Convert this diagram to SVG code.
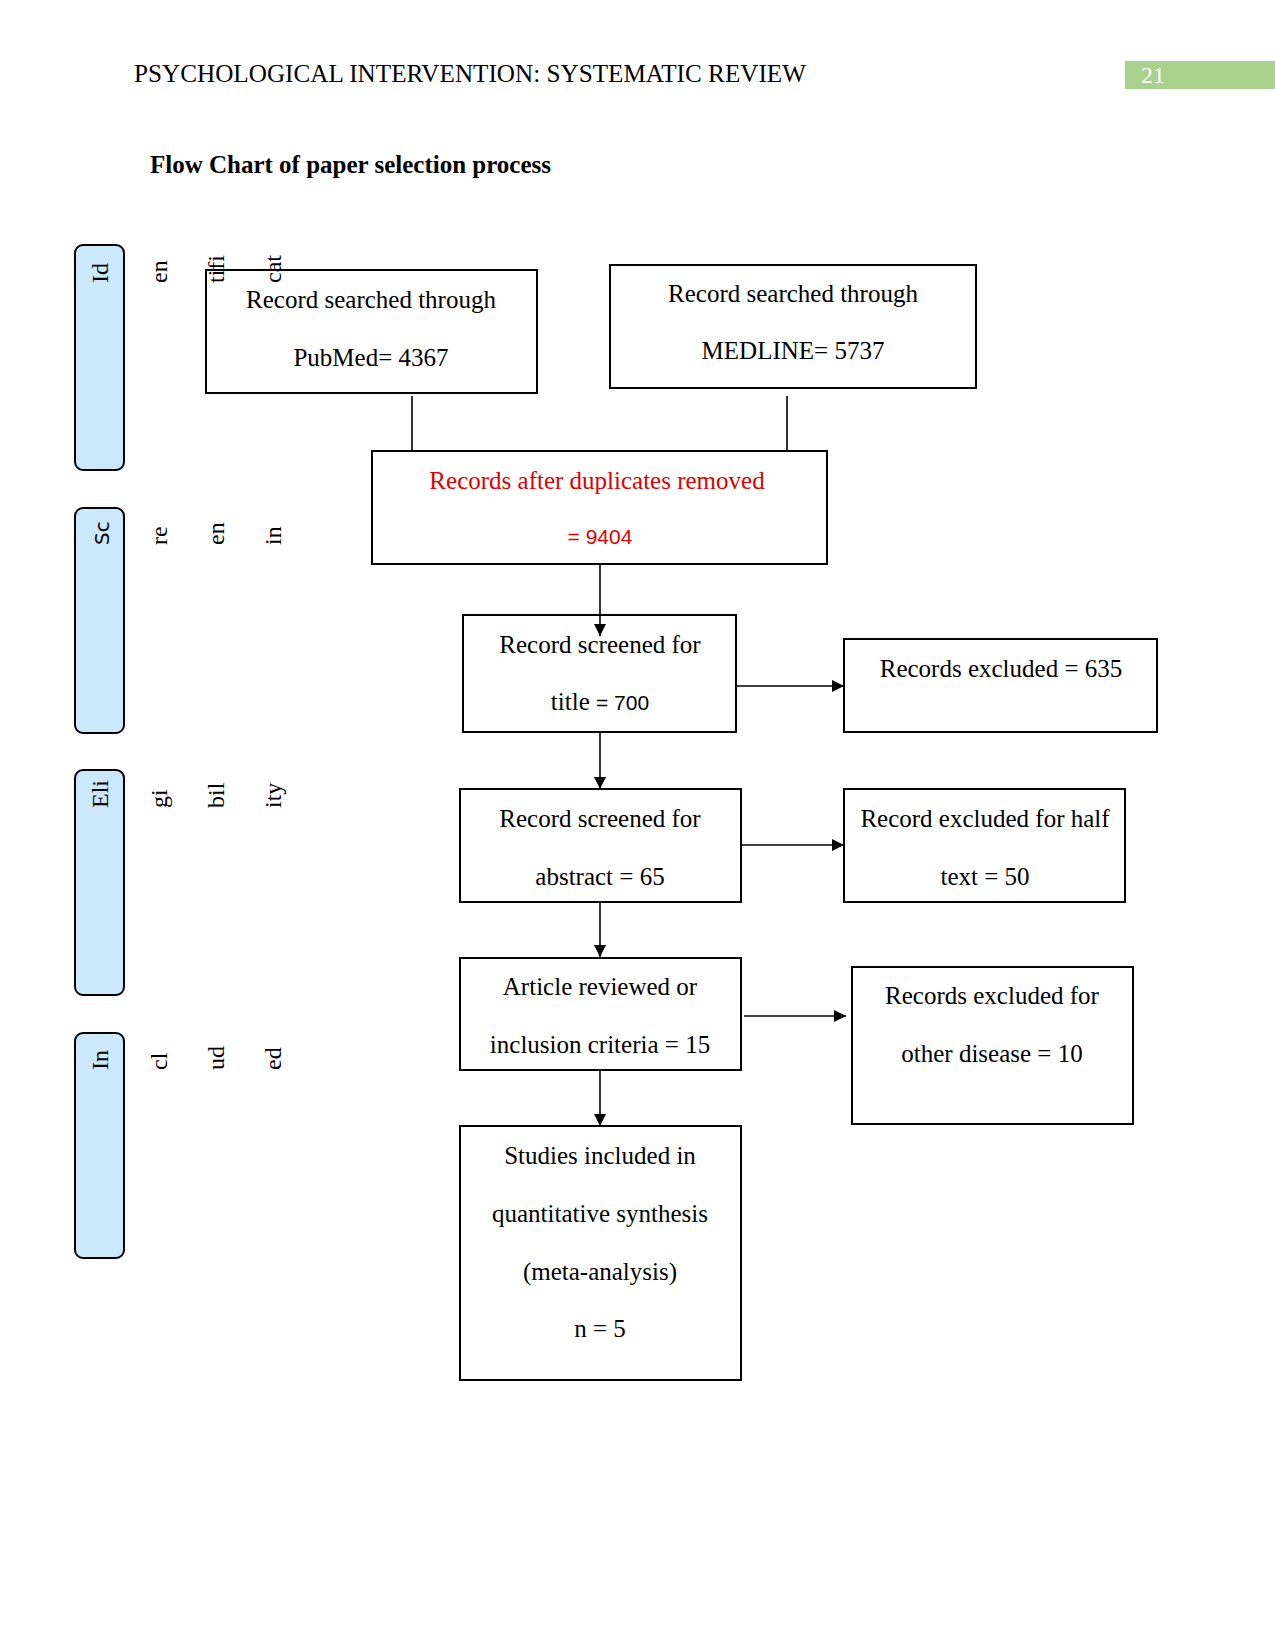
<svg xmlns="http://www.w3.org/2000/svg" width="1275" height="1650" viewBox="0 0 1275 1650">
<style>
.bx{fill:#fff;stroke:#000;stroke-width:2}
.side{fill:#cce8fc;stroke:#000;stroke-width:2}
.t{font-family:"Liberation Serif","Times New Roman",serif;font-size:25px;fill:#000;text-anchor:middle}
.s{font-family:"Liberation Sans",Arial,sans-serif;font-size:21px}
.r{fill:#e00000}
.v{font-family:"Liberation Serif","Times New Roman",serif;font-size:24px;fill:#000}
.vs{font-family:"DejaVu Sans","Liberation Sans",sans-serif;font-size:20px;fill:#000}
.ln{stroke:#000;stroke-width:1.6;fill:none}
</style>
<defs>
<marker id="ah" viewBox="0 0 10 10" refX="10" refY="5" markerWidth="12" markerHeight="12" orient="auto" markerUnits="userSpaceOnUse">
<path d="M0,0 L10,5 L0,10 z" fill="#000"/>
</marker>
</defs>
<rect width="1275" height="1650" fill="#fff"/>
<text x="134" y="82" font-family="Liberation Serif, serif" font-size="25" textLength="672" lengthAdjust="spacingAndGlyphs">PSYCHOLOGICAL INTERVENTION: SYSTEMATIC REVIEW</text>
<rect x="1125" y="61" width="150" height="28" fill="#a9d18e"/>
<text x="1141" y="83" font-family="Liberation Serif, serif" font-size="24" fill="#fff">21</text>
<text x="150" y="173" font-family="Liberation Serif, serif" font-size="25" font-weight="bold" textLength="401" lengthAdjust="spacingAndGlyphs">Flow Chart of paper selection process</text>

<g id="pubmed">
<rect class="bx" x="206" y="270" width="331" height="123"/>
<text class="t" x="371" y="308">Record searched through</text>
<text class="t" x="371" y="366">PubMed= 4367</text>
</g>
<g id="medline">
<rect class="bx" x="610" y="265" width="366" height="123" stroke-width="2.5"/>
<text class="t" x="793" y="302">Record searched through</text>
<text class="t" x="793" y="359">MEDLINE= 5737</text>
</g>
<g id="duplicates">
<rect class="bx" x="372" y="451" width="455" height="113"/>
<text class="t r" x="597" y="489">Records after duplicates removed</text>
<text class="t s r" x="600" y="544">= 9404</text>
</g>
<g id="title">
<rect class="bx" x="463" y="615" width="273" height="117"/>
<text class="t" x="600" y="653">Record screened for</text>
<text class="t" x="600" y="710">title <tspan class="s">= 700</tspan></text>
</g>
<g id="excluded635">
<rect class="bx" x="844" y="639" width="313" height="93"/>
<text class="t" x="1001" y="677">Records excluded = 635</text>
</g>
<g id="abstract">
<rect class="bx" x="460" y="789" width="281" height="113"/>
<text class="t" x="600" y="827">Record screened for</text>
<text class="t" x="600" y="885">abstract = 65</text>
</g>
<g id="halftext">
<rect class="bx" x="844" y="789" width="281" height="113"/>
<text class="t" x="985" y="827">Record excluded for half</text>
<text class="t" x="985" y="885">text = 50</text>
</g>
<g id="article">
<rect class="bx" x="460" y="958" width="281" height="112"/>
<text class="t" x="600" y="995">Article reviewed or</text>
<text class="t" x="600" y="1053">inclusion criteria = 15</text>
</g>
<g id="otherdisease">
<rect class="bx" x="852" y="967" width="281" height="157"/>
<text class="t" x="992" y="1004">Records excluded for</text>
<text class="t" x="992" y="1062">other disease = 10</text>
</g>
<g id="studies">
<rect class="bx" x="460" y="1126" width="281" height="254"/>
<text class="t" x="600" y="1164">Studies included in</text>
<text class="t" x="600" y="1222">quantitative synthesis</text>
<text class="t" x="600" y="1280">(meta-analysis)</text>
<text class="t" x="600" y="1337">n = 5</text>
</g>

<g id="connectors">
<line class="ln" x1="412" y1="396" x2="412" y2="450"/>
<line class="ln" x1="787" y1="396" x2="787" y2="450"/>
<line class="ln" x1="600" y1="564" x2="600" y2="636" marker-end="url(#ah)"/>
<line class="ln" x1="736" y1="686" x2="844" y2="686" marker-end="url(#ah)"/>
<line class="ln" x1="600" y1="732" x2="600" y2="789" marker-end="url(#ah)"/>
<line class="ln" x1="741" y1="845" x2="844" y2="845" marker-end="url(#ah)"/>
<line class="ln" x1="600" y1="902" x2="600" y2="957" marker-end="url(#ah)"/>
<line class="ln" x1="744" y1="1016" x2="846" y2="1016" marker-end="url(#ah)"/>
<line class="ln" x1="600" y1="1070" x2="600" y2="1126" marker-end="url(#ah)"/>
</g>

<g id="side-identification">
<rect class="side" x="75" y="245" width="49" height="225" rx="8"/>
<text class="v" transform="translate(108,283) rotate(-90)">Id</text>
<text class="v" transform="translate(167,283) rotate(-90)">en</text>
<text class="v" transform="translate(224,283) rotate(-90)">tifi</text>
<text class="v" transform="translate(281,283) rotate(-90)">cat</text>
</g>
<g id="side-screening">
<rect class="side" x="75" y="508" width="49" height="225" rx="8"/>
<text class="vs" transform="translate(109,545) rotate(-90)">Sc</text>
<text class="v" transform="translate(167,545) rotate(-90)">re</text>
<text class="v" transform="translate(224,545) rotate(-90)">en</text>
<text class="v" transform="translate(281,545) rotate(-90)">in</text>
</g>
<g id="side-eligibility">
<rect class="side" x="75" y="770" width="49" height="225" rx="8"/>
<text class="v" transform="translate(108,808) rotate(-90)">Eli</text>
<text class="v" transform="translate(167,808) rotate(-90)">gi</text>
<text class="v" transform="translate(224,808) rotate(-90)">bil</text>
<text class="v" transform="translate(281,808) rotate(-90)">ity</text>
</g>
<g id="side-included">
<rect class="side" x="75" y="1033" width="49" height="225" rx="8"/>
<text class="v" transform="translate(108,1070) rotate(-90)">In</text>
<text class="v" transform="translate(167,1070) rotate(-90)">cl</text>
<text class="v" transform="translate(224,1070) rotate(-90)">ud</text>
<text class="v" transform="translate(281,1070) rotate(-90)">ed</text>
</g>
</svg>
